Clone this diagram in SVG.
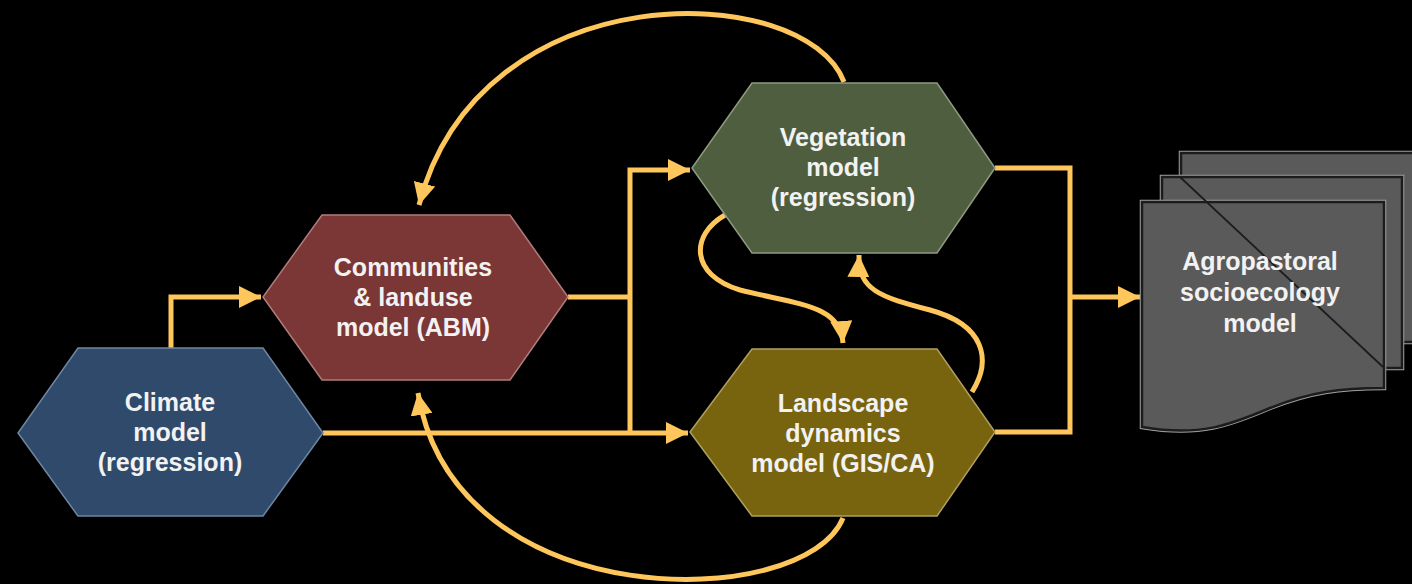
<svg xmlns="http://www.w3.org/2000/svg" width="1412" height="584" viewBox="0 0 1412 584">
<style>
.lbl{font-family:"Liberation Sans",Arial,sans-serif;font-weight:bold;font-size:25px;fill:#f2f2f2;text-anchor:middle}
.conn{fill:none;stroke:#ffc65c;stroke-width:5;stroke-linejoin:miter}
.hex{stroke-width:1.5}
.page{fill:#5a5a5a;stroke:#1c1c1c;stroke-width:2.5}
.pageh{fill:none;stroke:#a0a0a0;stroke-width:4.5}
</style>
<defs>
<marker id="ah" markerUnits="userSpaceOnUse" markerWidth="24" markerHeight="22" refX="22" refY="11" orient="auto" viewBox="0 0 24 22">
<path d="M0,0 L22,11 L0,22 Z" fill="#ffc65c"/>
</marker>
</defs>
<rect width="1412" height="584" fill="#000"/>
<g id="connectors">
<path class="conn" d="M171,348 V297 H261" marker-end="url(#ah)"/>
<path class="conn" d="M323,433 H688" marker-end="url(#ah)"/>
<path class="conn" d="M568,297 H630"/>
<path class="conn" d="M630,433 V170 H690" marker-end="url(#ah)"/>
<path class="conn" d="M995,168 H1070 V432 H995"/>
<path class="conn" d="M1070,297 H1140" marker-end="url(#ah)"/>
<path class="conn" d="M844,82 C805,-20 480,-30 419,205" marker-end="url(#ah)"/>
<path class="conn" d="M843,518 C805,612 455,618 418,393" marker-end="url(#ah)"/>
<path class="conn" d="M725,215 C690,235 690,275 740,290 C800,305 840,305 843,343" marker-end="url(#ah)"/>
<path class="conn" d="M972,392 C992,360 985,325 930,310 C880,297 858,290 859,255" marker-end="url(#ah)"/>
</g>
<g id="climate">
<polygon class="hex" points="78,348 263,348 323,433 263,516 78,516 18,433" fill="#2f4a6b" stroke="#6f86a3"/>
<text class="lbl" x="170" y="411">Climate</text>
<text class="lbl" x="170" y="441">model</text>
<text class="lbl" x="170" y="471">(regression)</text>
</g>
<g id="communities">
<polygon class="hex" points="322,215 510,215 568,297 510,380 322,380 263,297" fill="#7b3636" stroke="#b07d7d"/>
<text class="lbl" x="413" y="276">Communities</text>
<text class="lbl" x="413" y="306">&amp; landuse</text>
<text class="lbl" x="413" y="336">model (ABM)</text>
</g>
<g id="vegetation">
<polygon class="hex" points="752,83 937,83 995,168 937,253 752,253 692,168" fill="#4f5e3f" stroke="#8e9b80"/>
<text class="lbl" x="843" y="146">Vegetation</text>
<text class="lbl" x="843" y="176">model</text>
<text class="lbl" x="843" y="206">(regression)</text>
</g>
<g id="landscape">
<polygon class="hex" points="752,349 937,349 995,432 937,516 752,516 690,432" fill="#78630f" stroke="#b0a060"/>
<text class="lbl" x="843" y="412">Landscape</text>
<text class="lbl" x="843" y="442">dynamics</text>
<text class="lbl" x="843" y="472">model (GIS/CA)</text>
</g>
<g id="agropastoral">
<rect class="pageh" x="1181" y="153" width="240" height="189"/>
<rect class="page" x="1181" y="153" width="240" height="189"/>
<rect class="pageh" x="1162" y="177" width="240" height="191"/>
<rect class="page" x="1162" y="177" width="240" height="191"/>
<path class="pageh" d="M1142,202 L1384,202 L1384,388 C1340,388 1310,392 1270,408 C1230,425 1200,437 1142,427 Z"/>
<path class="page" d="M1142,202 L1384,202 L1384,388 C1340,388 1310,392 1270,408 C1230,425 1200,437 1142,427 Z"/>
<path d="M1180,177 L1383,367" fill="none" stroke="#1c1c1c" stroke-width="1.8"/>
<text class="lbl" x="1260" y="270">Agropastoral</text>
<text class="lbl" x="1260" y="301">socioecology</text>
<text class="lbl" x="1260" y="332">model</text>
</g>
</svg>
